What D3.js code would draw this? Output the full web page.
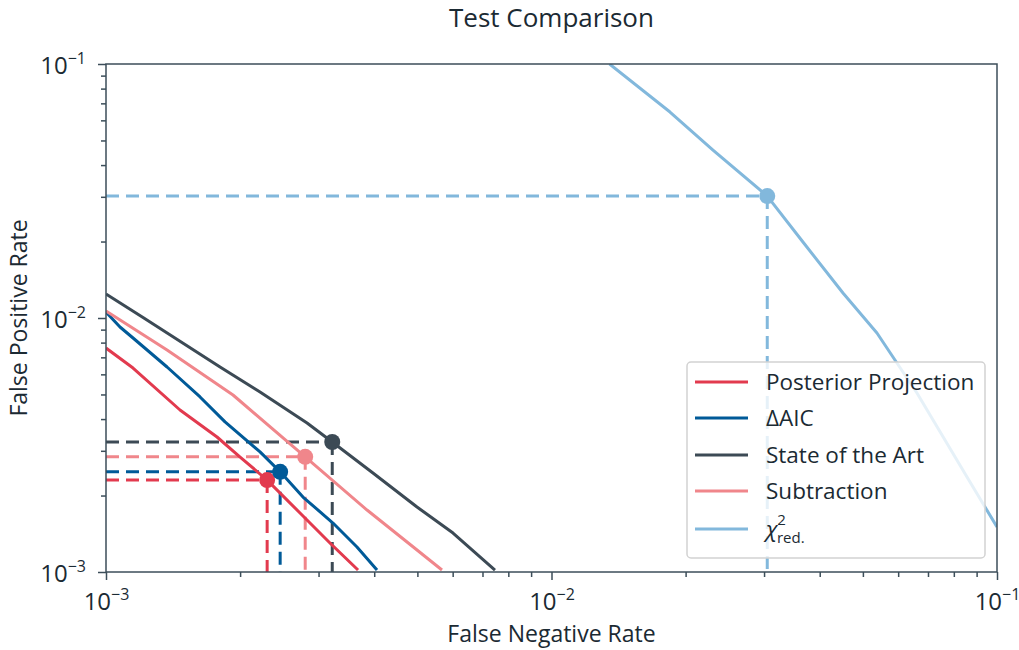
<!DOCTYPE html>
<html>
<head>
<meta charset="utf-8">
<script src="https://cdn.jsdelivr.net/npm/d3@7"></script>
<style>
  body { margin: 0; background: #fff; }
  text { font-family: "Open Sans", "Noto Sans", sans-serif; fill: #1b2a33; }
</style>
</head>
<body>
<div id="chart"></div>
<script>
(function() {
	var margin = { top: 64, left: 106, right: 22, bottom: 78 },
	width = 1019 - margin.left - margin.right,
	height = 650 - margin.top - margin.bottom;

	// series: false negative rate (x) vs false positive rate (y)
	var posteriorX = [0.001, 0.00115, 0.001466, 0.001775, 0.002, 0.0023, 0.002726, 0.003182, 0.003679];
	var posteriorY = [0.007618, 0.006355, 0.004343, 0.0034, 0.002836, 0.0023, 0.001707, 0.0013, 0.001018];

	var aicX = [0.001, 0.001075, 0.00115, 0.001371, 0.001626, 0.00185, 0.002217, 0.00246, 0.002768, 0.003232, 0.003659, 0.004058];
	var aicY = [0.01056, 0.009218, 0.008341, 0.006414, 0.004887, 0.0039, 0.00297, 0.00248, 0.001973, 0.001559, 0.001254, 0.001018];

	var stateX = [0.001, 0.001211, 0.001803, 0.002217, 0.002827, 0.00322, 0.003974, 0.00499, 0.006011, 0.007467];
	var stateY = [0.01243, 0.01005, 0.006414, 0.005113, 0.00386, 0.00325, 0.002454, 0.001803, 0.001424, 0.001018];

	var subX = [0.001, 0.001371, 0.001928, 0.0028, 0.003854, 0.005678];
	var subY = [0.01066, 0.007482, 0.004976, 0.00284, 0.001754, 0.001018];

	var chiX = [0.0135, 0.01845, 0.02304, 0.0305, 0.03668, 0.04511, 0.05377, 0.06612, 0.08564, 0.1];
	var chiY = [0.1, 0.06471, 0.04585, 0.0302, 0.01991, 0.01254, 0.008728, 0.005067, 0.002366, 0.001504];

	// operating points marked on each curve
	var markerX = [0.0023, 0.00246, 0.00322, 0.0028, 0.0305];
	var markerY = [0.0023, 0.00248, 0.00325, 0.00284, 0.0302];

	var names = ["Posterior Projection", "ΔAIC", "State of the Art", "Subtraction", "χ2red."];
	var colors = ["#e23a4e", "#005a98", "#3c4a55", "#f0868b", "#82b8dc"];
	var majorTicks = [1e-3, 1e-2, 1e-1];
	var tickExponents = ["−3", "−2", "−1"];

	var seriesX = [posteriorX, aicX, stateX, subX, chiX];
	var seriesY = [posteriorY, aicY, stateY, subY, chiY];

	var svg = d3.select("#chart")
		.append("svg")
		.attr("width", width + margin.left + margin.right)
		.attr("height", height + margin.top + margin.bottom);

	var g = svg.append("g")
		.attr("transform", "translate(" + margin.left + "," + margin.top + ")");

	var xPositionScale = d3.scaleLog().domain([1e-3, 1e-1]).range([0, width]);
	var yPositionScale = d3.scaleLog().domain([1e-3, 1e-1]).range([height, 0]);

	var minorTicks = [];
	[1e-3, 1e-2].forEach(function(base) {
		for (var k = 2; k <= 9; k++) minorTicks.push(base * k);
	});

	var axisColor = "#3c4e5a";
	var lw = 3;

	g.append("clipPath").attr("id", "clip")
		.append("rect").attr("width", width).attr("height", height);

	var plot = g.append("g").attr("clip-path", "url(#clip)");

	var line = d3.line()
		.x(function(d) { return xPositionScale(d[0]); })
		.y(function(d) { return yPositionScale(d[1]); });

	// dashed guides
	for (var i = 0; i < names.length; i++) {
		var mx = xPositionScale(markerX[i]), my = yPositionScale(markerY[i]);
		plot.append("line")
			.attr("x1", 0).attr("x2", mx).attr("y1", my).attr("y2", my)
			.attr("stroke", colors[i]).attr("stroke-width", lw)
			.attr("stroke-dasharray", "13,7");
		plot.append("line")
			.attr("x1", mx).attr("x2", mx).attr("y1", my).attr("y2", height)
			.attr("stroke", colors[i]).attr("stroke-width", lw)
			.attr("stroke-dasharray", "13,7");
	}

	// curves
	for (var j = 0; j < names.length; j++) {
		plot.append("path")
			.datum(d3.zip(seriesX[j], seriesY[j]))
			.attr("d", line)
			.attr("fill", "none")
			.attr("stroke", colors[j])
			.attr("stroke-width", lw)
			.attr("stroke-linejoin", "round");
	}

	plot.selectAll(".marker")
		.data(d3.range(names.length))
		.enter()
		.append("circle")
		.attr("class", "marker")
		.attr("cx", function(d) { return xPositionScale(markerX[d]); })
		.attr("cy", function(d) { return yPositionScale(markerY[d]); })
		.attr("r", 8)
		.attr("fill", function(d) { return colors[d]; });

	// axes
	function styleAxis(sel) {
		sel.select(".domain").remove();
		sel.selectAll("line").attr("stroke", axisColor).attr("stroke-width", 1.5);
	}

	var xAxis = d3.axisBottom(xPositionScale).tickValues(majorTicks).tickSize(8).tickFormat("");
	var xg = g.append("g").attr("transform", "translate(0," + height + ")").call(xAxis).call(styleAxis);
	var xMinor = d3.axisBottom(xPositionScale).tickValues(minorTicks).tickSize(5).tickFormat("");
	g.append("g").attr("transform", "translate(0," + height + ")").call(xMinor).call(styleAxis);

	var yAxis = d3.axisLeft(yPositionScale).tickValues(majorTicks).tickSize(8).tickFormat("");
	var yg = g.append("g").call(yAxis).call(styleAxis);
	var yMinor = d3.axisLeft(yPositionScale).tickValues(minorTicks).tickSize(5).tickFormat("");
	g.append("g").call(yMinor).call(styleAxis);

	xg.selectAll(".tick").each(function(d, k) {
		var t = d3.select(this).append("text")
			.attr("y", 38).attr("text-anchor", "middle")
			.style("font-size", "24px");
		t.append("tspan").text("10");
		t.append("tspan").attr("dy", -10).style("font-size", "16px").text(tickExponents[k]);
	});
	yg.selectAll(".tick").each(function(d, k) {
		var t = d3.select(this).append("text")
			.attr("x", -20).attr("dy", 9).attr("text-anchor", "end")
			.style("font-size", "24px");
		t.append("tspan").text("10");
		t.append("tspan").attr("dy", -10).style("font-size", "16px").text(tickExponents[k]);
	});

	// frame
	g.append("rect")
		.attr("width", width).attr("height", height)
		.attr("fill", "none").attr("stroke", axisColor).attr("stroke-width", 1.5);

	// legend
	var legend = g.append("g").attr("transform", "translate(" + (687 - margin.left) + "," + (362 - margin.top) + ")");
	legend.append("rect")
		.attr("width", 298).attr("height", 196).attr("rx", 4)
		.attr("fill", "rgba(255,255,255,0.8)")
		.attr("stroke", "#d2d2d2").attr("stroke-width", 1.5);

	var rowY = [20, 56, 93, 129, 167];
	for (var r = 0; r < names.length; r++) {
		legend.append("line")
			.attr("x1", 8).attr("x2", 61).attr("y1", rowY[r]).attr("y2", rowY[r])
			.attr("stroke", colors[r]).attr("stroke-width", lw);
		var lt = legend.append("text")
			.attr("x", 79).attr("y", rowY[r] + 8)
			.style("font-size", "22.5px");
		if (r === 4) {
			lt.append("tspan").style("font-style", "italic").text("χ");
			lt.append("tspan").attr("dy", -12).style("font-size", "15px").text("2");
			lt.append("tspan").attr("dx", -9).attr("dy", 18).style("font-size", "15px").text("red.");
		} else {
			lt.text(names[r]);
		}
	}

	// titles
	svg.append("text")
		.attr("x", margin.left + width / 2).attr("y", 27)
		.attr("text-anchor", "middle")
		.style("font-size", "26px")
		.text("Test Comparison");

	svg.append("text")
		.attr("x", margin.left + width / 2).attr("y", 642)
		.attr("text-anchor", "middle")
		.style("font-size", "23px")
		.text("False Negative Rate");

	svg.append("text")
		.attr("transform", "translate(27," + (margin.top + height / 2) + ") rotate(-90)")
		.attr("text-anchor", "middle")
		.style("font-size", "23px")
		.text("False Positive Rate");
})();
</script>
</body>
</html>
